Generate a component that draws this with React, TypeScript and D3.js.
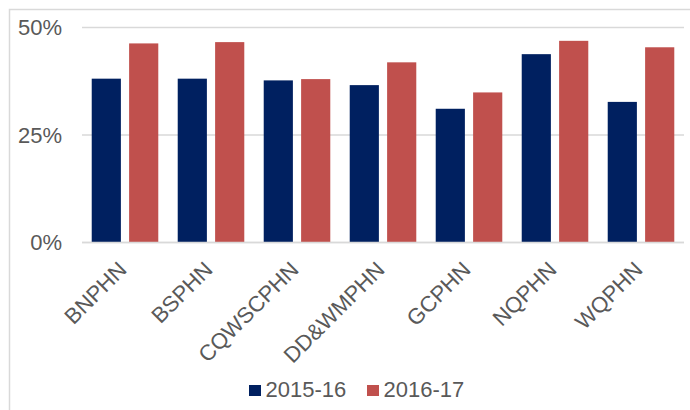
import React from "react";
import * as d3 from "d3";

const categories = ["BNPHN", "BSPHN", "CQWSCPHN", "DD&WMPHN", "GCPHN", "NQPHN", "WQPHN"];
const seriesNames = ["2015-16", "2016-17"];
const values2015 = [38.1, 38.1, 37.7, 36.6, 31.1, 43.8, 32.7];
const values2016 = [46.3, 46.6, 38.0, 41.9, 34.9, 46.9, 45.4];
const yTicks = [0, 25, 50];
const colors = ["#002060", "#C0504D"];

const W = 690;
const H = 410;
const plotLeft = 82;
const plotRight = 684;
const plotTop = 27.5;
const plotBottom = 242.5;
const FONT = "'Liberation Sans', Arial, sans-serif";
const TEXT = "#595959";
const GRID = "#d9d9d9";

export default function App() {
  const x0 = d3.scaleBand<string>().domain(categories).range([plotLeft, plotRight]).paddingInner(0.226).paddingOuter(0.113);
  const x1 = d3.scaleBand<string>().domain(seriesNames).range([0, x0.bandwidth()]).paddingInner(0.22);
  const y = d3.scaleLinear().domain([0, 50]).range([plotBottom, plotTop]);
  const series = [values2015, values2016];
  const group = d3.scaleBand<string>().domain(categories).range([plotLeft, plotRight]);

  return (
    <svg width={W} height={H} style={{ position: "absolute", left: 0, top: 0, background: "#fff" }} fontFamily={FONT}>
      <rect x={9.5} y={9.5} width={720} height={440} fill="#fff" stroke={GRID} strokeWidth={1.5} />
      {yTicks.map((t) => (
        <g key={t}>
          <line x1={plotLeft} x2={plotRight} y1={y(t)} y2={y(t)} stroke={GRID} strokeWidth={1.5} />
          <text x={62} y={y(t) + 7.5} textAnchor="end" fontSize={22} fill={TEXT}>
            {t}%
          </text>
        </g>
      ))}
      {categories.map((c, i) => (
        <g key={c}>
          {seriesNames.map((s, j) => {
            const v = series[j][i];
            return (
              <rect
                key={s}
                x={(x0(c) as number) + (x1(s) as number)}
                y={y(v)}
                width={x1.bandwidth()}
                height={y(0) - y(v)}
                fill={colors[j]}
              />
            );
          })}
        </g>
      ))}
      <line x1={plotLeft} x2={plotRight} y1={y(0)} y2={y(0)} stroke={GRID} strokeWidth={1.5} />
      {categories.map((c) => {
        const cx = (group(c) as number) + group.bandwidth() / 2 + 3;
        return (
          <text
            key={c}
            transform={`translate(${cx},${271}) rotate(-45)`}
            textAnchor="end"
            fontSize={22}
            fill={TEXT}
          >
            {c}
          </text>
        );
      })}
      <g>
        {seriesNames.map((s, j) => {
          const lx = 249 + j * 118;
          return (
            <g key={s}>
              <rect x={lx} y={385} width={12} height={11} fill={colors[j]} />
              <text x={lx + 16.5} y={396.5} fontSize={22} fill={TEXT}>
                {s}
              </text>
            </g>
          );
        })}
      </g>
    </svg>
  );
}
